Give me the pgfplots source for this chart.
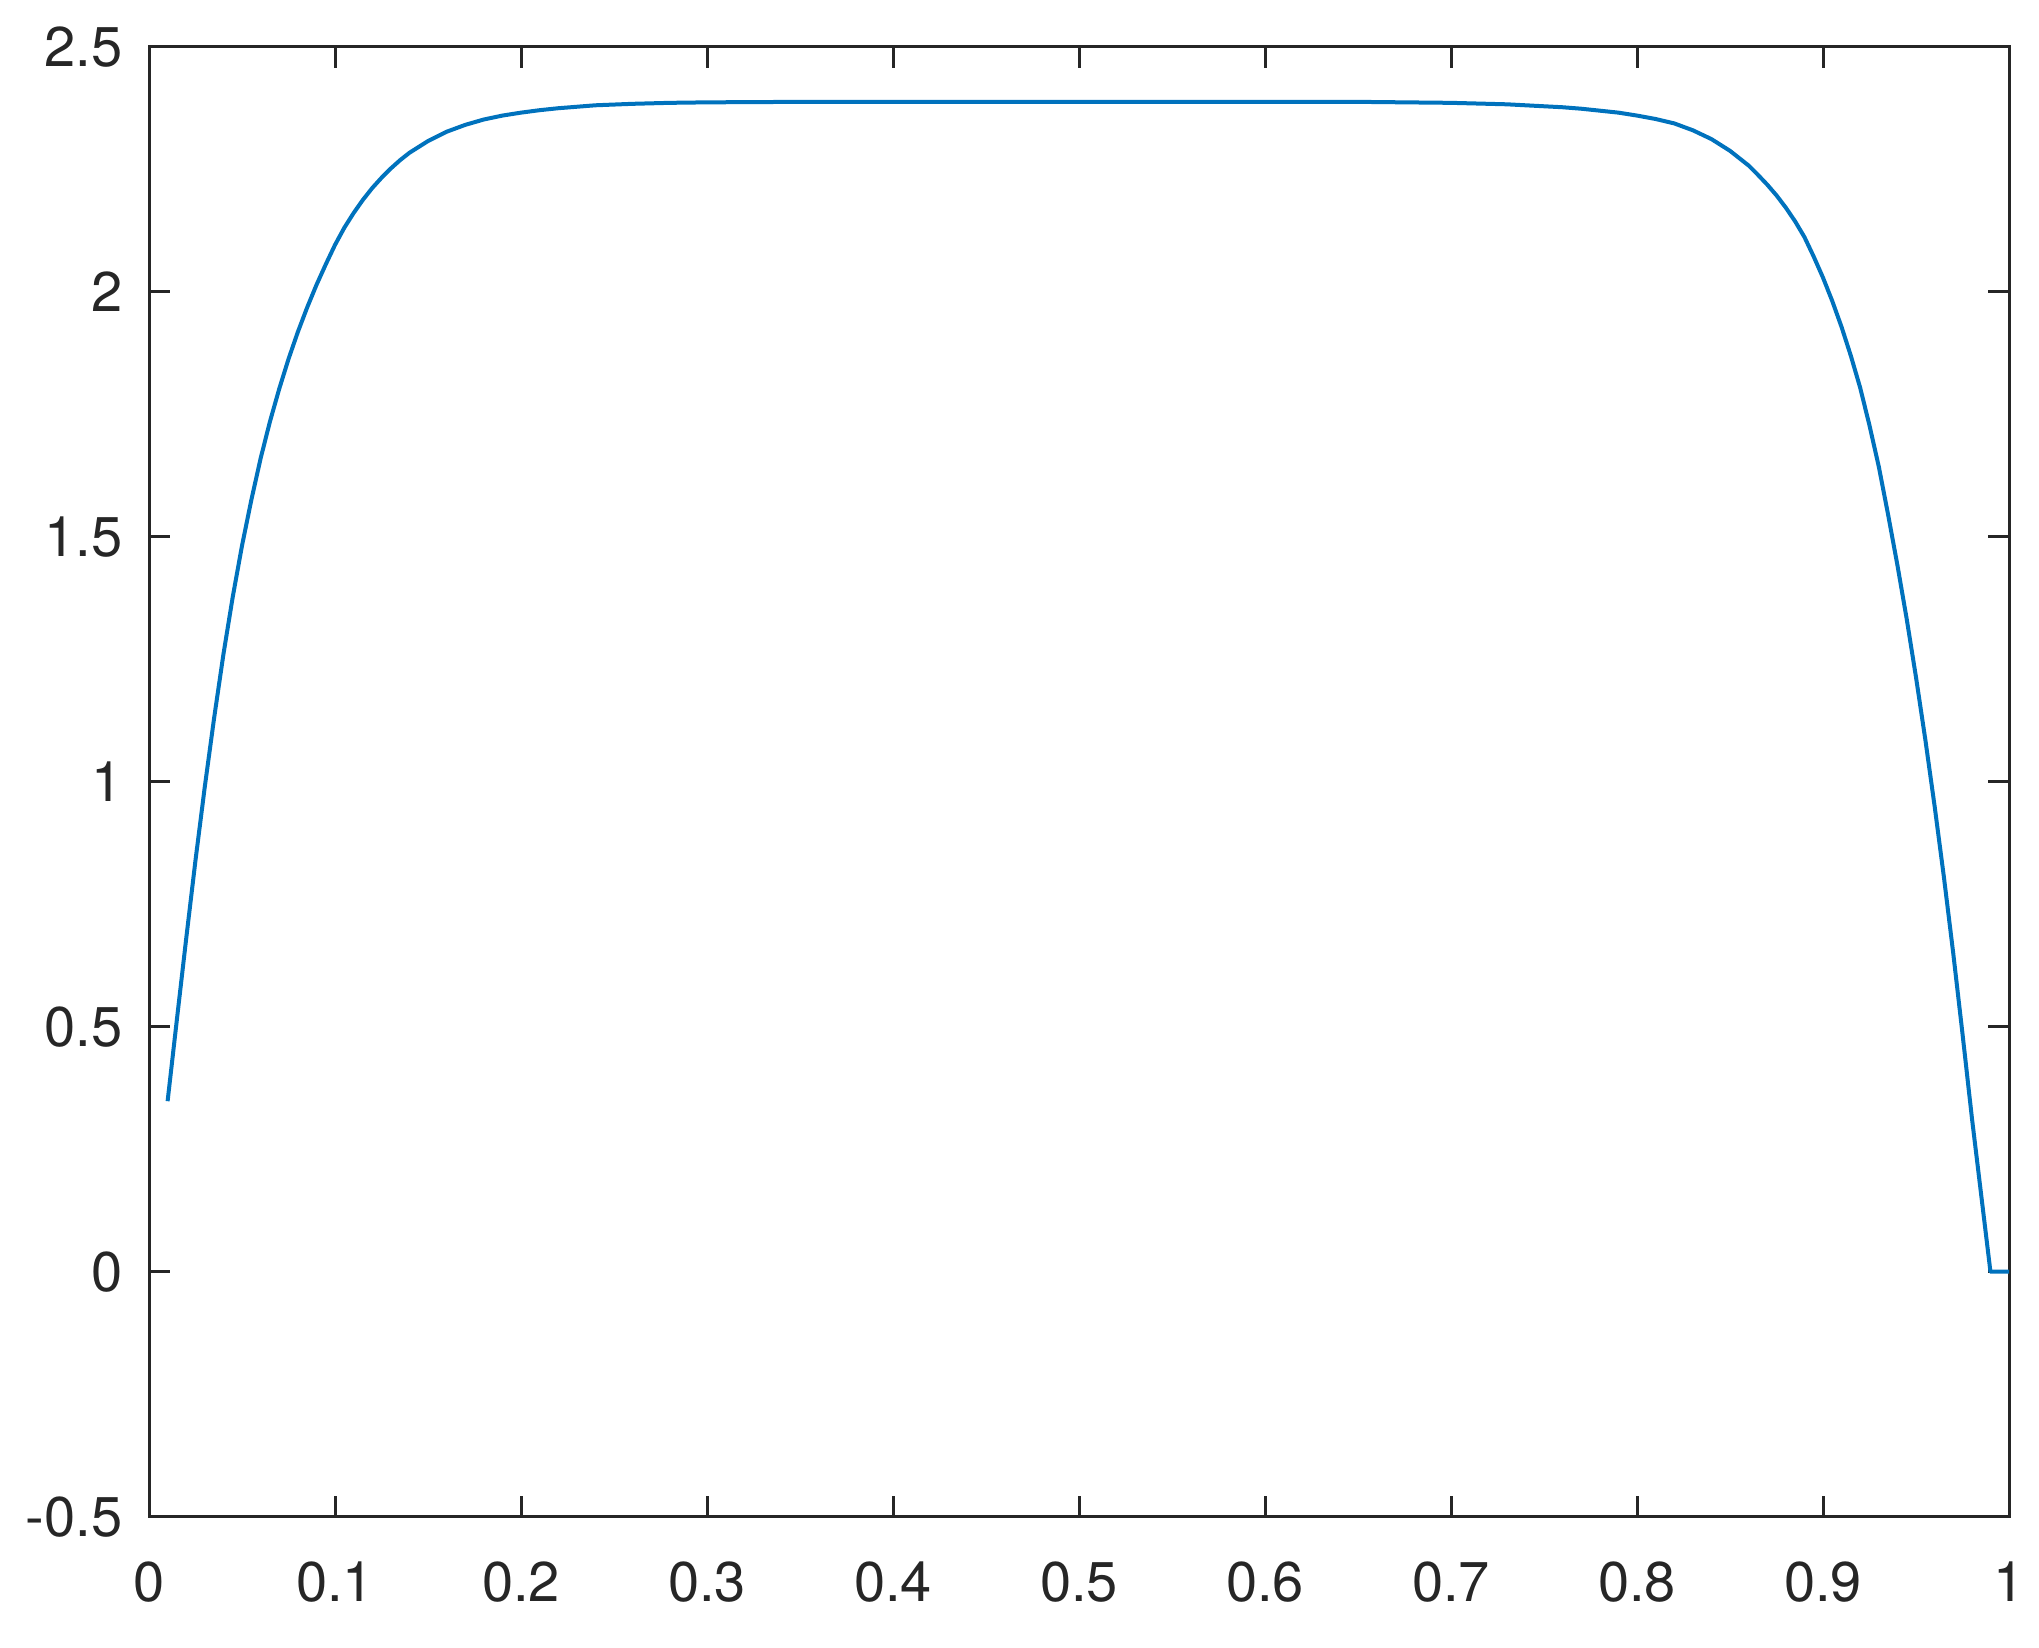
\documentclass[border=0pt]{standalone}
\usepackage{fontspec}
\setmainfont{TeX Gyre Heros}
\usepackage{pgfplots}
\pgfplotsset{compat=1.18}
\definecolor{mblue}{rgb}{0,0.447,0.741}
\definecolor{axgray}{rgb}{0.15,0.15,0.15}

\begin{document}
\begin{tikzpicture}
  \begin{axis}[
      scale only axis,
      width=465pt, height=367.4pt,
      xmin=0, xmax=1, ymin=-0.5, ymax=2.5,
      xtick={0,0.1,...,1.01},
      xticklabels={0,0.1,0.2,0.3,0.4,0.5,0.6,0.7,0.8,0.9,1},
      ytick={-0.5,0,0.5,1,1.5,2,2.5},
      yticklabels={-0.5,0,0.5,1,1.5,2,2.5},
      tick align=inside, tick pos=both,
      major tick length=5.25pt,
      axis line style={axgray, line width=0.75pt},
      every tick/.style={axgray, line width=0.75pt},
      tick label style={font=\fontsize{14}{16.8}\selectfont, text=axgray, inner sep=0pt},
      xticklabel style={yshift=-11pt},
      yticklabel style={xshift=-6.5pt},
    ]
    \addplot[mblue, line width=1pt, mark=none, line join=round] coordinates {
      (0.010,0.348) (0.015,0.515) (0.020,0.680) (0.025,0.840) (0.030,0.990)
      (0.035,1.130) (0.040,1.260) (0.045,1.377) (0.050,1.482) (0.055,1.575)
      (0.060,1.660) (0.065,1.735) (0.070,1.802) (0.075,1.863) (0.080,1.918)
      (0.085,1.968) (0.090,2.014) (0.095,2.056) (0.100,2.096) (0.105,2.131)
      (0.110,2.161) (0.115,2.188) (0.120,2.212) (0.125,2.233) (0.130,2.252)
      (0.135,2.269) (0.140,2.284) (0.150,2.308) (0.160,2.327) (0.170,2.341)
      (0.180,2.352) (0.190,2.360) (0.200,2.366) (0.210,2.371) (0.220,2.375)
      (0.240,2.381) (0.260,2.384) (0.280,2.386) (0.300,2.387) (0.350,2.388)
      (0.500,2.388) (0.650,2.388) (0.700,2.386) (0.730,2.383) (0.760,2.377)
      (0.770,2.374) (0.780,2.370) (0.790,2.366) (0.800,2.360) (0.810,2.353)
      (0.820,2.344) (0.830,2.330) (0.840,2.312) (0.850,2.288) (0.860,2.258)
      (0.865,2.239) (0.870,2.219) (0.875,2.197) (0.880,2.172) (0.885,2.144)
      (0.890,2.112) (0.895,2.072) (0.900,2.029) (0.905,1.981) (0.910,1.928)
      (0.915,1.869) (0.920,1.804) (0.925,1.727) (0.930,1.643) (0.935,1.545)
      (0.940,1.442) (0.945,1.332) (0.950,1.213) (0.955,1.086) (0.960,0.950)
      (0.965,0.805) (0.970,0.650) (0.975,0.485) (0.980,0.315)
      (0.990,0) (1.000,0)
    };
  \end{axis}
  \path ([xshift=-37.25pt,yshift=-32.75pt]current axis.south west)
    rectangle ([xshift=7.5pt,yshift=11.75pt]current axis.north east);
\end{tikzpicture}
\end{document}
